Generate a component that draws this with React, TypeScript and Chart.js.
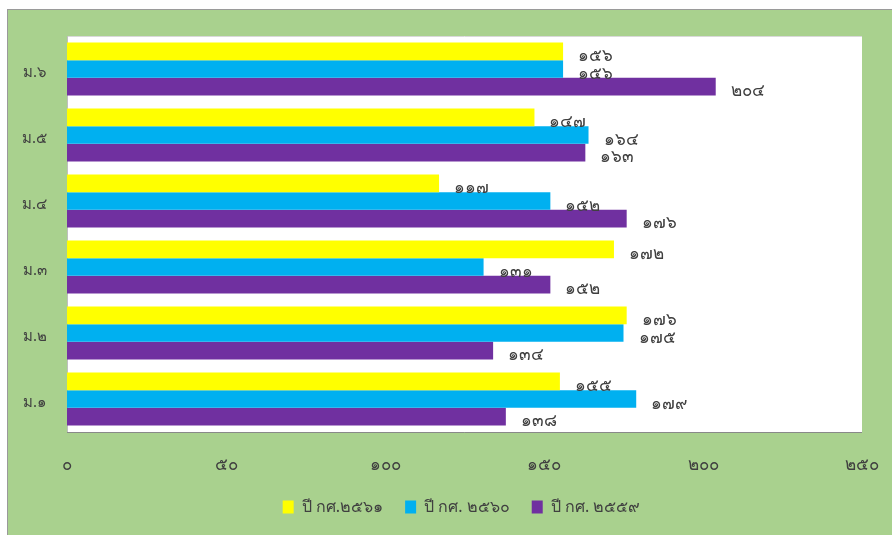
import { useEffect, useRef } from 'react';
import { Chart, registerables } from 'chart.js';

Chart.register(...registerables);

const categories = ['ม.๖', 'ม.๕', 'ม.๔', 'ม.๓', 'ม.๒', 'ม.๑'];
const seriesNames = ['ปี กศ.๒๕๖๑', 'ปี กศ. ๒๕๖๐', 'ปี กศ. ๒๕๕๙'];
const values2561 = [156, 147, 117, 172, 176, 155];
const values2560 = [156, 164, 152, 131, 175, 179];
const values2559 = [204, 163, 176, 152, 134, 138];
const seriesColors = ['#FFFF00', '#00B0F0', '#7030A0'];
const xMin = 0;
const xMax = 250;
const xStep = 50;
const thaiDigits = ['๐', '๑', '๒', '๓', '๔', '๕', '๖', '๗', '๘', '๙'];

const toThai = (n: number | string) =>
  String(n).replace(/[0-9]/g, (d) => thaiDigits[Number(d)]);

const FONT = "Tahoma, 'Noto Sans', 'DejaVu Sans', sans-serif";
const TEXT = '#404040';

const plotBackground = {
  id: 'plotBackground',
  beforeDatasetsDraw(chart: any) {
    const { ctx, chartArea: a } = chart;
    ctx.save();
    ctx.fillStyle = '#FFFFFF';
    ctx.fillRect(a.left, a.top, a.right - a.left, a.bottom - a.top);
    ctx.lineWidth = 1;
    ctx.strokeStyle = '#D9D9D9';
    ctx.beginPath();
    ctx.moveTo(a.left, a.top + 0.5);
    ctx.lineTo(a.right, a.top + 0.5);
    ctx.stroke();
    ctx.strokeStyle = '#BFBFBF';
    ctx.beginPath();
    ctx.moveTo(a.left + 0.5, a.top);
    ctx.lineTo(a.left + 0.5, a.bottom);
    ctx.stroke();
    ctx.strokeStyle = '#898989';
    ctx.beginPath();
    ctx.moveTo(a.left, a.bottom + 0.5);
    ctx.lineTo(a.right, a.bottom + 0.5);
    ctx.stroke();
    ctx.restore();
  },
};

const legendShift = {
  id: 'legendShift',
  afterLayout(chart: any) {
    if (chart.legend) {
      chart.legend.left -= 3;
      chart.legend.right -= 3;
    }
  },
};

const valueLabels = {
  id: 'valueLabels',
  afterDatasetsDraw(chart: any) {
    const { ctx } = chart;
    ctx.save();
    ctx.font = `17px ${FONT}`;
    ctx.fillStyle = TEXT;
    ctx.textAlign = 'left';
    ctx.textBaseline = 'middle';
    chart.data.datasets.forEach((ds: any, i: number) => {
      const meta = chart.getDatasetMeta(i);
      meta.data.forEach((el: any, j: number) => {
        ctx.fillText(toThai(ds.data[j]), el.x + 15, el.y + 5);
      });
    });
    ctx.restore();
  },
};

export default function App() {
  const canvasRef = useRef<HTMLCanvasElement | null>(null);

  useEffect(() => {
    if (!canvasRef.current) return;
    const seriesValues = [values2561, values2560, values2559];
    const chart = new Chart(canvasRef.current, {
      type: 'bar',
      data: {
        labels: categories,
        datasets: seriesNames.map((name, i) => ({
          label: name,
          data: seriesValues[i],
          backgroundColor: seriesColors[i],
          borderWidth: 0,
          barPercentage: 1,
          categoryPercentage: 0.8,
        })),
      },
      options: {
        indexAxis: 'y',
        animation: false,
        responsive: false,
        maintainAspectRatio: false,
        events: [],
        layout: { padding: { top: 27, right: 30, bottom: 10, left: 0 } },
        scales: {
          x: {
            min: xMin,
            max: xMax,
            grid: { display: false, drawTicks: true, tickLength: 23 },
            border: { display: false },
            ticks: {
              stepSize: xStep,
              padding: 0,
              color: TEXT,
              font: { family: FONT, size: 17 },
              callback: (v: any) => toThai(v),
            },
            afterFit: (s: any) => {
              s.height = 45;
            },
          },
          y: {
            grid: { display: false, drawTicks: true, tickLength: 20 },
            border: { display: false },
            ticks: {
              padding: 0,
              labelOffset: 4,
              color: TEXT,
              font: { family: FONT, size: 15 },
            },
            afterFit: (s: any) => {
              s.width = 60;
            },
          },
        },
        plugins: {
          legend: {
            position: 'bottom',
            fullSize: false,
            labels: {
              boxWidth: 11,
              boxHeight: 13,
              padding: 22,
              color: TEXT,
              font: { family: FONT, size: 16 },
            },
          },
          tooltip: { enabled: false },
        },
      },
      plugins: [plotBackground, legendShift, valueLabels],
    });
    return () => chart.destroy();
  }, []);

  return (
    <div style={{ position: 'absolute', left: 0, top: 0, width: 892, height: 535, background: '#FFFFFF', overflow: 'hidden' }}>
      <div
        style={{
          position: 'absolute',
          left: 7,
          top: 9,
          width: 885,
          height: 526,
          boxSizing: 'border-box',
          background: '#A9D18E',
          borderTop: '1px solid #9A9A9A',
          borderLeft: '1px solid #9A9A9A',
        }}
      />
      <canvas
        ref={canvasRef}
        width={885}
        height={526}
        style={{ position: 'absolute', left: 7, top: 9, width: 885, height: 526 }}
      />
    </div>
  );
}
